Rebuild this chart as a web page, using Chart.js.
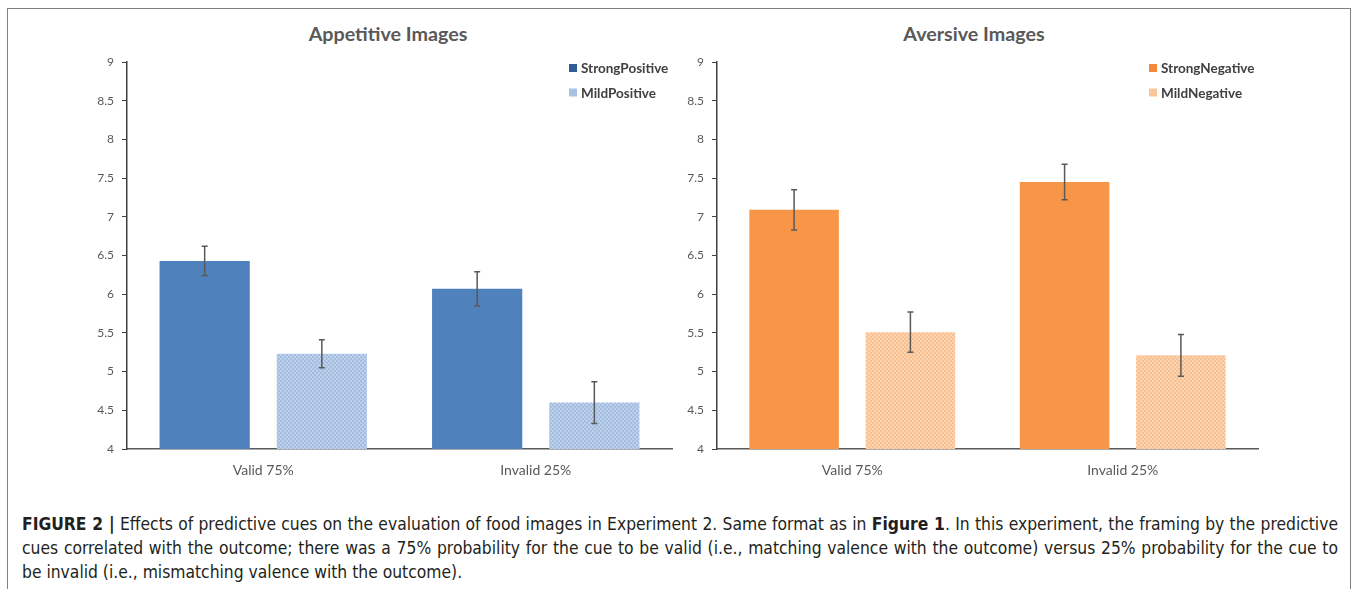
<!DOCTYPE html>
<html>
<head>
<meta charset="utf-8">
<script src="https://cdn.jsdelivr.net/npm/chart.js@4.4.0/dist/chart.umd.min.js"></script>
<style>
  html, body { margin: 0; padding: 0; background: #fff; }
  body { width: 1357px; height: 589px; position: relative; overflow: hidden; font-family: Lato, sans-serif; }
  #frame { position: absolute; left: 7px; top: 8px; width: 1342px; height: 620px; border: 1px solid #808080; }
  .chartTitle { position: absolute; top: 22px; height: 24px; line-height: 24px; font-size: 19.7px; font-weight: bold; color: #595959; text-align: center; }
  #leftTitle { left: 288px; width: 200px; }
  #rightTitle { left: 874px; width: 200px; }
  canvas { position: absolute; top: 44px; }
  #appetitiveChart { left: 90px; }
  #aversiveChart { left: 680px; }
  #caption { position: absolute; left: 22px; top: 512px; width: 1316px; font-family: "DejaVu Sans Condensed", "Liberation Sans", sans-serif; font-size: 15px; line-height: 24px; color: #231f20; }
  #caption .line { white-space: nowrap; overflow: visible; }
  #caption .just { text-align: justify; text-align-last: justify; }
  #measure { position: absolute; visibility: hidden; white-space: nowrap; font-family: "DejaVu Sans Condensed", "Liberation Sans", sans-serif; font-size: 15px; }
</style>
</head>
<body>
<div id="frame"></div>
<div class="chartTitle" id="leftTitle">Appetitive Images</div>
<div class="chartTitle" id="rightTitle">Aversive Images</div>
<canvas id="appetitiveChart" width="596" height="435"></canvas>
<canvas id="aversiveChart" width="588" height="435"></canvas>
<div id="caption">
  <div class="line just" id="capLine1"><b>FIGURE 2 |</b> Effects of predictive cues on the evaluation of food images in Experiment 2. Same format as in <b>Figure 1</b>. In this experiment, the framing by the predictive</div>
  <div class="line just">cues correlated with the outcome; there was a 75% probability for the cue to be valid (i.e., matching valence with the outcome) versus 25% probability for the cue to</div>
  <div class="line">be invalid (i.e., mismatching valence with the outcome).</div>
</div>
<span id="measure"></span>
<script>
// Data
const categories = ['Valid 75%', 'Invalid 25%'];

const strongPositive = [6.43, 6.07];
const strongPositiveErr = [0.19, 0.22];
const mildPositive = [5.23, 4.60];
const mildPositiveErr = [0.18, 0.27];

const strongNegative = [7.09, 7.45];
const strongNegativeErr = [0.26, 0.23];
const mildNegative = [5.51, 5.21];
const mildNegativeErr = [0.26, 0.27];

const yMin = 4;
const yMax = 9;
const yStep = 0.5;

// Size the caption font so the first line fills the frame width
const measure = document.getElementById('measure');
measure.innerHTML = document.getElementById('capLine1').innerHTML;
const naturalWidth = measure.getBoundingClientRect().width;
document.getElementById('caption').style.fontSize = (15 * 1306 / naturalWidth).toFixed(2) + 'px';

// Checkerboard fill for the "mild" bars
function checker(c1, c2, size) {
    const cv = document.createElement('canvas');
    cv.width = cv.height = size * 2;
    const ctx = cv.getContext('2d');
    ctx.fillStyle = c1;
    ctx.fillRect(0, 0, size * 2, size * 2);
    ctx.fillStyle = c2;
    ctx.fillRect(0, 0, size, size);
    ctx.fillRect(size, size, size, size);
    return ctx.createPattern(cv, 'repeat');
}

// Error bars plugin, drawn through the y scale
const errorBarsPlugin = {
    id: 'errorBars',
    afterDatasetsDraw(chart) {
        const ctx = chart.ctx;
        const yScale = chart.scales.y;
        ctx.save();
        ctx.strokeStyle = '#595959';
        ctx.lineWidth = 1.5;
        chart.data.datasets.forEach((ds, i) => {
            if (!ds.errors) return;
            chart.getDatasetMeta(i).data.forEach((bar, j) => {
                const v = ds.data[j];
                const top = yScale.getPixelForValue(v + ds.errors[j]);
                const bottom = yScale.getPixelForValue(v - ds.errors[j]);
                ctx.beginPath();
                ctx.moveTo(bar.x, top);
                ctx.lineTo(bar.x, bottom);
                ctx.moveTo(bar.x - 3, top);
                ctx.lineTo(bar.x + 3, top);
                ctx.moveTo(bar.x - 3, bottom);
                ctx.lineTo(bar.x + 3, bottom);
                ctx.stroke();
            });
        });
        ctx.restore();
    }
};

// Legend inside the plot area, top right (like the Excel one)
const insideLegendPlugin = {
    id: 'insideLegend',
    afterDraw(chart, args, opts) {
        const ctx = chart.ctx;
        const x = chart.chartArea.right - opts.offsetRight;
        ctx.save();
        ctx.font = 'bold 13.5px Lato, sans-serif';
        ctx.textBaseline = 'middle';
        chart.data.datasets.forEach((ds, i) => {
            const y = opts.top + i * opts.rowGap;
            ctx.fillStyle = ds.legendColor;
            ctx.fillRect(x, y - 4, 8, 8);
            ctx.fillStyle = '#404040';
            ctx.fillText(ds.label, x + 12, y + 1);
        });
        ctx.restore();
    }
};

function makeConfig(datasets, legendOffset, padRight) {
    return {
        type: 'bar',
        data: { labels: categories, datasets: datasets },
        options: {
            responsive: false,
            animation: false,
            layout: { padding: { top: 18, right: padRight, bottom: 0, left: 0 } },
            datasets: {
                bar: { categoryPercentage: 0.86, barPercentage: 0.77 }
            },
            plugins: {
                legend: { display: false },
                tooltip: { enabled: false },
                insideLegend: { offsetRight: legendOffset, top: 24, rowGap: 24.5 }
            },
            scales: {
                x: {
                    grid: { display: false, drawTicks: false },
                    border: { color: '#595959', width: 1.5 },
                    ticks: { color: '#595959', font: { family: 'Lato', size: 14 }, padding: 13 },
                    afterFit(scale) { scale.height = 30; }
                },
                y: {
                    min: yMin,
                    max: yMax,
                    ticks: {
                        stepSize: yStep,
                        color: '#595959',
                        font: { family: 'Lato', size: 12 },
                        padding: 8,
                        callback: v => String(v)
                    },
                    grid: { drawOnChartArea: false, drawTicks: true, tickLength: 5, color: '#404040' },
                    border: { color: '#404040', width: 1.5 },
                    afterFit(scale) { scale.width = 37; }
                }
            }
        },
        plugins: [errorBarsPlugin, insideLegendPlugin]
    };
}

const appetitiveChart = new Chart(
    document.getElementById('appetitiveChart'),
    makeConfig([
        {
            label: 'StrongPositive',
            data: strongPositive,
            errors: strongPositiveErr,
            backgroundColor: '#4f81bd',
            legendColor: '#2f5d96'
        },
        {
            label: 'MildPositive',
            data: mildPositive,
            errors: mildPositiveErr,
            backgroundColor: checker('#a4bee1', '#bdd0ea', 2),
            legendColor: '#a9c2e3'
        }
    ], 103, 14)
);

const aversiveChart = new Chart(
    document.getElementById('aversiveChart'),
    makeConfig([
        {
            label: 'StrongNegative',
            data: strongNegative,
            errors: strongNegativeErr,
            backgroundColor: '#f79646',
            legendColor: '#f38a3a'
        },
        {
            label: 'MildNegative',
            data: mildNegative,
            errors: mildNegativeErr,
            backgroundColor: checker('#f9c08f', '#fcd4b2', 2),
            legendColor: '#fbc59a'
        }
    ], 109, 10)
);
</script>
</body>
</html>
